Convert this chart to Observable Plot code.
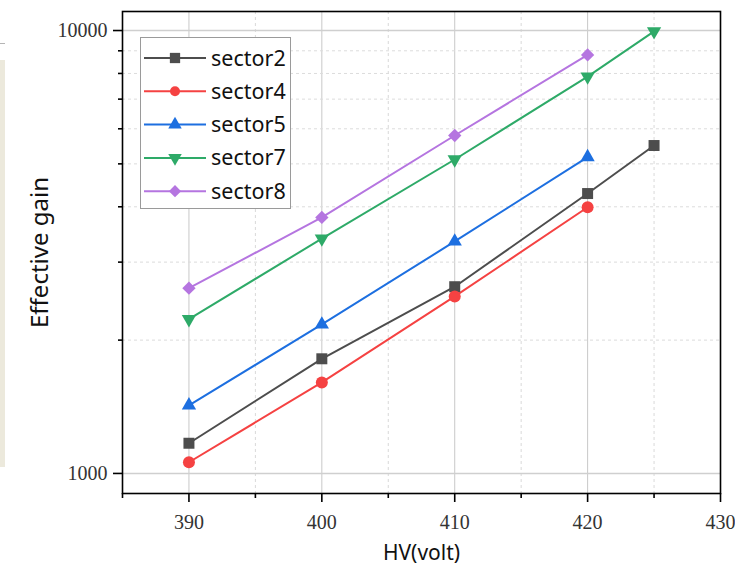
<!DOCTYPE html>
<html><head><meta charset="utf-8">
<script src="https://cdn.jsdelivr.net/npm/d3@7"></script>
<script src="https://cdn.jsdelivr.net/npm/@observablehq/plot@0.6"></script>
<style>
body{margin:0;background:#fff;}
#wrap{position:relative;width:735px;height:566px;overflow:hidden;}
#strip{position:absolute;left:0;top:60px;width:5px;height:407px;background:#ece9dc;}
#stripline{position:absolute;left:0;top:43px;width:5px;height:1px;background:#b5b5b5;}
#legend{position:absolute;left:140px;top:37px;}
</style></head>
<body><div id="wrap"><div id="stripline"></div><div id="strip"></div><div id="chart"></div><div id="legend"></div></div>
<script>
// Data
const seriesNames = ["sector2", "sector4", "sector5", "sector7", "sector8"];
const seriesColors = ["#4d4d4d", "#f54242", "#1d6fe0", "#2eaa68", "#b575e0"];
const seriesSymbols = ["square", "circle", "triangle", "triangle", "diamond2"];
const seriesRotate = [0, 0, 0, 180, 0];
const seriesR = [6.2, 6, 5.3, 5.3, 6];
const hvSector2 = [390, 400, 410, 420, 425];
const gainSector2 = [1170, 1815, 2640, 4285, 5500];
const hvSector4 = [390, 400, 410, 420];
const gainSector4 = [1060, 1605, 2510, 3990];
const hvSector5 = [390, 400, 410, 420];
const gainSector5 = [1425, 2170, 3340, 5180];
const hvSector7 = [390, 400, 410, 420, 425];
const gainSector7 = [2230, 3390, 5115, 7870, 9960];
const hvSector8 = [390, 400, 410, 420];
const gainSector8 = [2620, 3785, 5795, 8810];
const xMajorTicks = [390, 400, 410, 420, 430];
const xMinorTicks = [385, 395, 405, 415, 425];
const yMajorTicks = [1000, 10000];
const yMinorTicks = [2000, 3000, 4000, 5000, 6000, 7000, 8000, 9000];
const xTitle = "HV(volt)";
const yTitle = "Effective gain";

const hvs = [hvSector2, hvSector4, hvSector5, hvSector7, hvSector8];
const gains = [gainSector2, gainSector4, gainSector5, gainSector7, gainSector8];
const rows = [];
seriesNames.forEach((s, i) => hvs[i].forEach((h, j) => rows.push({series: s, hv: h, gain: gains[i][j]})));

const serif = "'Liberation Serif', 'DejaVu Serif', serif";
const sans = "'Noto Sans', 'Open Sans', sans-serif";

const chart = Plot.plot({
  width: 735, height: 566,
  marginLeft: 122, marginRight: 15, marginTop: 11, marginBottom: 73,
  style: {background: "transparent", fontFamily: serif, fontSize: "20px", color: "#000"},
  x: {domain: [385, 430]},
  y: {type: "log", domain: [901, 11040]},
  color: {domain: seriesNames, range: seriesColors},
  marks: [
    Plot.gridX(xMinorTicks.slice(1), {stroke: "#d9d9d9", strokeOpacity: 1, strokeDasharray: "3,3"}),
    Plot.gridX(xMajorTicks.slice(0, -1), {stroke: "#c8c8c8", strokeOpacity: 1}),
    Plot.gridY(yMinorTicks, {stroke: "#dcdcdc", strokeOpacity: 1, strokeDasharray: "3,3"}),
    Plot.gridY(yMajorTicks, {stroke: "#cfcfcf", strokeOpacity: 1, strokeWidth: 1.5}),
    Plot.line(rows, {x: "hv", y: "gain", z: "series", stroke: "series", strokeWidth: 2}),
    ...seriesNames.map((s, i) => Plot.dot(rows.filter(d => d.series === s), {
      x: "hv", y: "gain", fill: "series", symbol: () => seriesSymbols[i], rotate: seriesRotate[i],
      r: seriesR[i], stroke: "none"
    })),
    Plot.frame({stroke: "#000", strokeWidth: 1.6}),
    Plot.axisX(xMajorTicks, {tickSize: 9, tickPadding: 12, strokeWidth: 1.6, label: null, fontSize: 20, fill: "#333"}),
    Plot.axisX(xMinorTicks, {tickSize: 5, strokeWidth: 1.6, tickFormat: () => "", label: null}),
    Plot.axisY(yMajorTicks, {tickSize: 9, tickPadding: 6, strokeWidth: 1.6, label: null, tickFormat: d => String(d), fontSize: 20, fill: "#333"}),
    Plot.axisY(yMinorTicks, {tickSize: 4, strokeWidth: 1.6, tickFormat: () => "", label: null}),
    Plot.text([xTitle], {frameAnchor: "bottom", dy: 60, lineAnchor: "middle", fontFamily: sans, fontSize: 21, fill: "#111"}),
    Plot.text([yTitle], {frameAnchor: "left", dx: -82, rotate: -90, textAnchor: "middle", lineAnchor: "middle", fontFamily: sans, fontSize: 24, fill: "#111"})
  ]
});
document.getElementById("chart").appendChild(chart);

// Legend
const lw = 151, lh = 172;
const lsvg = d3.select("#legend").append("svg").attr("width", lw).attr("height", lh);
lsvg.append("rect").attr("x", 0.5).attr("y", 0.5).attr("width", lw - 1).attr("height", lh - 1)
  .attr("fill", "#fff").attr("stroke", "#9a9a9a");
const symMap = {square: d3.symbolSquare, circle: d3.symbolCircle, triangle: d3.symbolTriangle, diamond2: d3.symbolDiamond2};
const legendR = [5.8, 5, 5, 5, 5.5];
seriesNames.forEach((s, i) => {
  const y = 21 + i * 33.3;
  const g = lsvg.append("g").attr("transform", `translate(0,${y})`);
  g.append("line").attr("x1", 4).attr("x2", 66).attr("stroke", seriesColors[i]).attr("stroke-width", 2);
  const r = legendR[i];
  g.append("path").attr("d", d3.symbol(symMap[seriesSymbols[i]], Math.PI * r * r)())
    .attr("transform", `translate(35,0) rotate(${seriesRotate[i]})`).attr("fill", seriesColors[i]);
  g.append("text").attr("x", 71).attr("y", 0).attr("dy", "0.35em").attr("font-family", sans)
    .attr("font-size", 21.5).attr("fill", "#111").text(s);
});
</script>
</body></html>
